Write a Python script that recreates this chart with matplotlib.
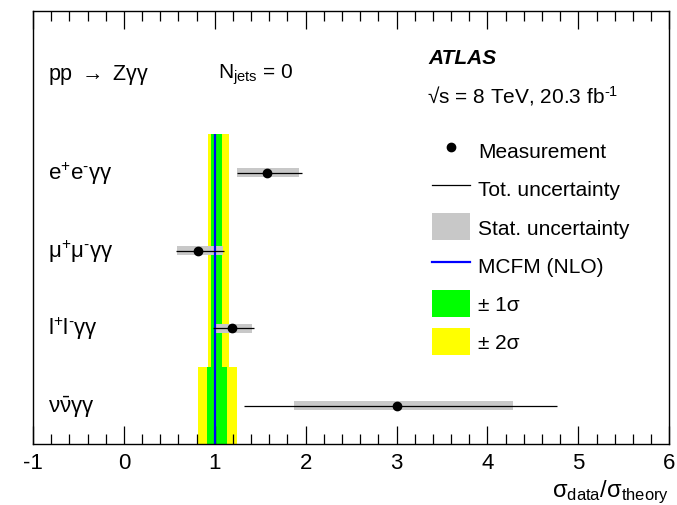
import matplotlib
matplotlib.use('Agg')
import matplotlib.pyplot as plt
from matplotlib.lines import Line2D
from matplotlib.patches import Patch
from matplotlib.ticker import MultipleLocator

plt.rcParams['font.family'] = ['Liberation Sans', 'DejaVu Sans']
plt.rcParams['mathtext.fontset'] = 'custom'
plt.rcParams['mathtext.rm'] = 'Liberation Sans'
plt.rcParams['mathtext.it'] = 'Liberation Sans:italic'
plt.rcParams['mathtext.bf'] = 'Liberation Sans:bold'
plt.rcParams['mathtext.default'] = 'regular'

# channels, top to bottom
channels = [r'$e^{+}e^{\text{-}}γγ$', r'$μ^{+}μ^{\text{-}}γγ$',
            r'$l^{+}l^{\text{-}}γγ$', r'$ν\bar{ν}γγ$']
rows = [4, 3, 2, 1]

# measured ratio sigma_data / sigma_theory
meas = [1.58, 0.82, 1.19, 3.00]
stat_lo = [1.25, 0.585, 1.00, 1.87]
stat_hi = [1.93, 1.09, 1.41, 4.28]
tot_lo = [1.25, 0.57, 0.98, 1.32]
tot_hi = [1.96, 1.10, 1.43, 4.77]

# MCFM prediction and its bands (relative)
theo = [1.0, 1.0, 1.0, 1.0]
one_lo = [0.955, 0.955, 0.955, 0.91]
one_hi = [1.08, 1.08, 1.08, 1.13]
two_lo = [0.92, 0.92, 0.92, 0.81]
two_hi = [1.16, 1.16, 1.16, 1.25]

xticks = [-1, 0, 1, 2, 3, 4, 5, 6]

fig = plt.figure(figsize=(6.77, 5.06), dpi=100)
ax = fig.add_axes([0.0487, 0.1206, 0.9399, 0.8551])

for r, y1, y2, g1, g2, t in zip(rows, two_lo, two_hi, one_lo, one_hi, theo):
    ax.fill_betweenx([r - 0.5, r + 0.5], y1, y2, color='#ffff00', lw=0)
    ax.fill_betweenx([r - 0.5, r + 0.5], g1, g2, color='#00ff00', lw=0)
    ax.vlines(t, r - 0.5, r + 0.5, color='#0000ff', lw=1.6)

ax.barh(rows, [h - l for l, h in zip(stat_lo, stat_hi)], left=stat_lo,
        height=0.116, color='#c8c8c8', lw=0)
ax.hlines(rows, tot_lo, tot_hi, color='black', lw=0.9)
ax.plot(meas, rows, 'o', color='black', ms=6)

for r, lab in zip(rows, channels):
    ax.text(-0.84, r, lab, fontsize=16, ha='left', va='center')

ax.set_xlim(-1, 6)
ax.set_ylim(0.51, 6.08)
ax.set_xticks(xticks)
ax.set_xticklabels([str(t) for t in xticks])
ax.xaxis.set_minor_locator(MultipleLocator(0.2))
ax.set_yticks([])
ax.tick_params(axis='x', which='both', direction='in', top=True,
               labelsize=16, width=0.9, pad=6)
ax.tick_params(axis='x', which='major', length=13)
ax.tick_params(axis='x', which='minor', length=7)
for s in ax.spines.values():
    s.set_linewidth(1.0)

fig.text(669 / 677, 1 - 497 / 506, r'$σ_{data}/σ_{theory}$', fontsize=17,
         ha='right', va='baseline')

fig.text(48 / 677, 1 - 75 / 506, r'pp $\rightarrow$ Zγγ', fontsize=15.5,
         ha='left', va='center')
fig.text(218 / 677, 1 - 75 / 506, r'$N_{jets}$ = 0', fontsize=15,
         ha='left', va='center')
fig.text(428 / 677, 1 - 58 / 506, 'ATLAS', fontsize=15, fontweight='bold',
         fontstyle='italic', ha='left', va='center')
fig.text(427 / 677, 1 - 96 / 506, r'√s = 8 TeV, 20.3 fb$^{\text{-}1}$',
         fontsize=15, ha='left', va='center')

handles = [
    Line2D([], [], ls='none', marker='o', color='black', ms=6),
    Line2D([], [], color='black', lw=0.9),
    Patch(facecolor='#c8c8c8', lw=0),
    Line2D([], [], color='#0000ff', lw=1.6),
    Patch(facecolor='#00ff00', lw=0),
    Patch(facecolor='#ffff00', lw=0),
]
labels = ['Measurement', 'Tot. uncertainty', 'Stat. uncertainty',
          'MCFM (NLO)', '± 1σ', '± 2σ']
fig.legend(handles, labels, loc='upper left',
           bbox_to_anchor=(432 / 677, 1 - 138 / 506), frameon=False,
           fontsize=15, handlelength=1.83, handleheight=1.6,
           labelspacing=0.55, handletextpad=0.4, borderpad=0,
           borderaxespad=0)

fig.savefig('out.png', dpi=100)
